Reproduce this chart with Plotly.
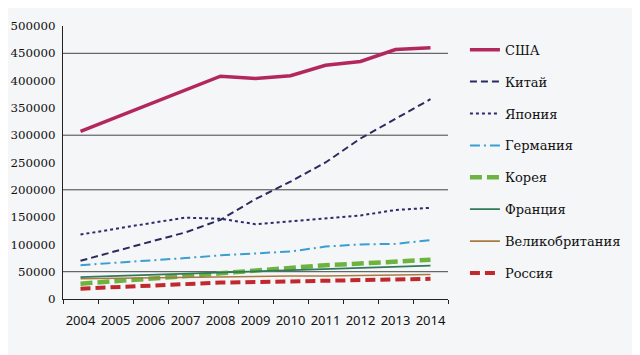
import plotly.graph_objects as go

years = ["2004", "2005", "2006", "2007", "2008", "2009", "2010", "2011", "2012", "2013", "2014"]
usa = [307000, 332000, 357000, 383000, 408000, 404000, 409000, 428000, 435000, 457000, 460000]
china = [70000, 88000, 105000, 122000, 145000, 183000, 215000, 250000, 294000, 330000, 366000]
japan = [118000, 129000, 139000, 149000, 147000, 137000, 142000, 148000, 153000, 163000, 167000]
germany = [62000, 66000, 70000, 75000, 80000, 84000, 87000, 96000, 100000, 101000, 108000]
korea = [28000, 32000, 37000, 42000, 47000, 52000, 58000, 62000, 65000, 68000, 72000]
france = [40000, 42000, 44000, 46000, 48000, 50000, 52000, 54000, 56000, 58000, 61000]
uk = [37000, 38000, 39000, 40000, 40000, 41000, 42000, 42000, 43000, 44000, 45000]
russia = [19000, 22000, 25000, 28000, 30000, 31000, 32000, 33000, 34000, 35000, 37000]

names = ["США", "Китай", "Япония", "Германия", "Корея", "Франция", "Великобритания", "Россия"]
series = [usa, china, japan, germany, korea, france, uk, russia]
colors = ["#b3285c", "#2b2a5e", "#2b2b6b", "#3a9fd0", "#6db33f", "#2f7a5a", "#a87a40", "#c0282e"]
widths = [3.5, 2, 2, 2, 4.5, 1.8, 1.6, 4]
dashes = ["solid", "7px,4px", "3px,3px", "10px,4px,2px,4px", "12px,5px", "solid", "solid", "10px,5px"]

grid_vals = [450000, 300000, 200000, 50000]
y_ticks = [0, 50000, 100000, 150000, 200000, 250000, 300000, 350000, 400000, 450000, 500000]

SERIF = "DejaVu Serif"

fig = go.Figure()
for i, (n, s) in enumerate(zip(names, series)):
    fig.add_trace(go.Scatter(
        x=years, y=s, name=n, mode="lines", legendgroup=n,
        line=dict(color=colors[i], width=widths[i], dash=dashes[i]),
    ))

for g in grid_vals:
    fig.add_hline(y=g, line=dict(color="#444444", width=1), layer="below")

fig.update_layout(
    width=632, height=347,
    margin=dict(l=55, r=192, t=18, b=56, autoexpand=False),
    paper_bgcolor="#f5f6f8", plot_bgcolor="#f5f6f8",
    font=dict(family=SERIF, size=13, color="#111111"),
    showlegend=True,
    legend=dict(
        x=1.044, y=0.968, xanchor="left", yanchor="top",
        bgcolor="rgba(0,0,0,0)", tracegroupgap=12,
        font=dict(family=SERIF, size=13, color="#111111"),
        itemwidth=30, maxheight=1,
    ),
)
fig.update_xaxes(
    type="category", range=[-0.5, 10.5], automargin=False,
    showline=True, linecolor="#222222", linewidth=1.2,
    showgrid=False, ticks="outside", ticklen=4, tickcolor="#222222",
    tickson="boundaries", tickangle=0,
    tickfont=dict(family="Noto Sans", size=13, color="#111111"),
    ticklabelstandoff=9,
)
fig.update_yaxes(
    range=[0, 500000], tickvals=y_ticks, ticktext=[str(v) for v in y_ticks],
    automargin=False,
    showline=True, linecolor="#222222", linewidth=1.2,
    showgrid=False, zeroline=False, ticks="",
    tickfont=dict(family=SERIF, size=11.8, color="#111111"),
    ticklabelstandoff=4,
)

fig.write_html("out.html")
